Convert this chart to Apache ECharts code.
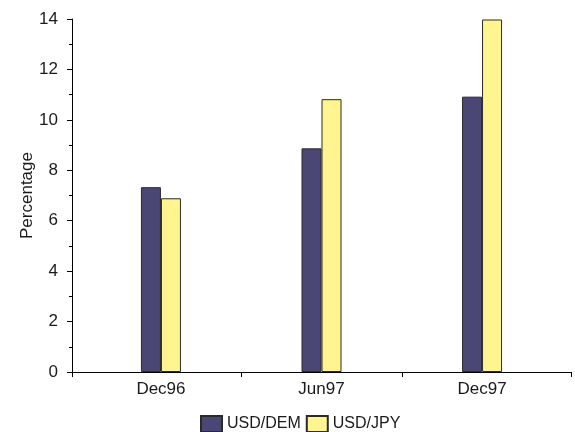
<!DOCTYPE html>
<html>
<head>
<meta charset="utf-8">
<script src="https://cdn.jsdelivr.net/npm/echarts@6/dist/echarts.min.js"></script>
<style>
  html, body { margin: 0; padding: 0; background: #fff; }
  #chart { width: 575px; height: 432px; }
</style>
</head>
<body>
<div id="chart"></div>
<script>
// Periods on the horizontal axis
const categories = ['Dec96', 'Jun97', 'Dec97'];
// Series values (percentage)
const usdDem = [7.33, 8.87, 10.92];
const usdJpy = [6.89, 10.82, 13.98];
// Y-axis range and step
const yMin = 0;
const yMax = 14;
const yStep = 2;

// Categories sit at 0,1,2 on a numeric axis with a half-band plus margin at each end
const xPad = 0.554;
const xMin = -xPad;
const xMax = categories.length - 1 + xPad;
const bandEdges = categories.slice(1).map((c, i) => i + 0.5);

const font = 'Liberation Sans, Arial, sans-serif';
const ink = '#1a1a1a';

const chart = echarts.init(document.getElementById('chart'), null, { renderer: 'canvas' });

chart.setOption({
  backgroundColor: '#ffffff',
  animation: false,
  textStyle: { fontFamily: font, color: ink },
  grid: {
    left: 72, right: 4, top: 19, bottom: 60,
    containLabel: false,
    outerBoundsMode: 'none'
  },
  legend: {
    left: 195,
    top: 410,
    icon: 'rect',
    itemWidth: 21,
    itemHeight: 16,
    itemGap: 5,
    textStyle: { fontFamily: font, fontSize: 16, color: ink },
    data: ['USD/DEM', 'USD/JPY']
  },
  xAxis: {
    type: 'value',
    min: xMin,
    max: xMax,
    axisLine: { show: true, onZero: false, lineStyle: { color: '#000', width: 1 } },
    axisTick: {
      show: true,
      length: 5,
      customValues: [xMin].concat(bandEdges, [xMax]),
      lineStyle: { color: '#000', width: 1 }
    },
    axisLabel: {
      customValues: categories.map((c, i) => i),
      formatter: v => categories[Math.round(v)],
      fontFamily: font,
      fontSize: 17,
      color: ink,
      margin: 9
    },
    splitLine: { show: false }
  },
  yAxis: {
    type: 'value',
    min: yMin,
    max: yMax,
    interval: yStep,
    name: 'Percentage',
    nameLocation: 'middle',
    nameGap: 36,
    nameMoveOverlap: false,
    nameTextStyle: { fontFamily: font, fontSize: 17, color: ink },
    axisLine: { show: true, onZero: false, lineStyle: { color: '#000', width: 1 } },
    axisTick: { show: true, length: 5, lineStyle: { color: '#000', width: 1 } },
    minorTick: { show: true, splitNumber: 2, length: 3, lineStyle: { color: '#000', width: 1 } },
    axisLabel: { fontFamily: font, fontSize: 17, color: ink, margin: 14 },
    splitLine: { show: false }
  },
  series: [
    {
      name: 'USD/DEM',
      type: 'bar',
      barWidth: 20,
      barGap: '0%',
      itemStyle: { color: '#4a4775', borderColor: '#2a2a2a', borderWidth: 1 },
      data: usdDem.map((v, i) => [i, v])
    },
    {
      name: 'USD/JPY',
      type: 'bar',
      barWidth: 20,
      barGap: '0%',
      itemStyle: { color: '#fff590', borderColor: '#2a2a2a', borderWidth: 1 },
      data: usdJpy.map((v, i) => [i, v])
    }
  ]
});
</script>
</body>
</html>
